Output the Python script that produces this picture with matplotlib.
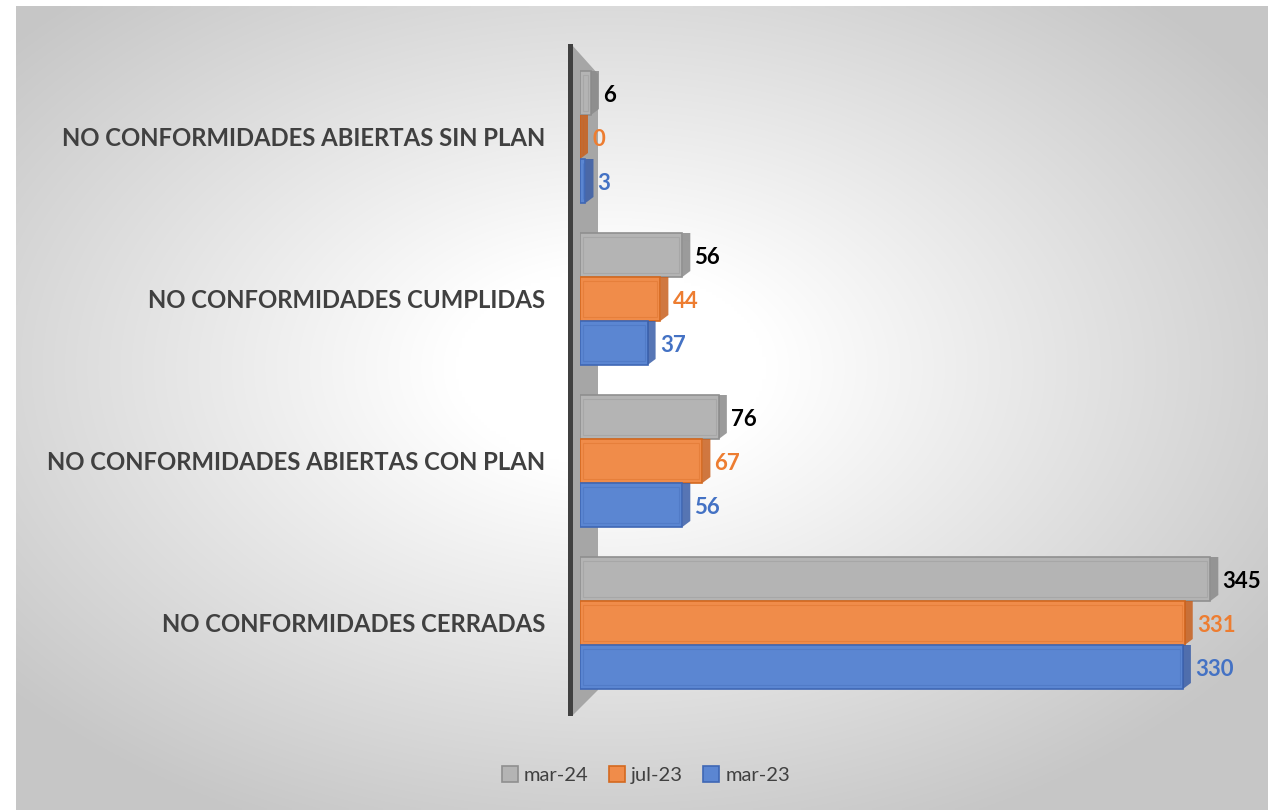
import numpy as np
import matplotlib.pyplot as plt
from matplotlib.patches import Polygon, Rectangle

# data (bottom to top)
categories = ['NO CONFORMIDADES CERRADAS', 'NO CONFORMIDADES ABIERTAS CON PLAN',
              'NO CONFORMIDADES CUMPLIDAS', 'NO CONFORMIDADES ABIERTAS SIN PLAN']
series = ['mar-24', 'jul-23', 'mar-23']
mar24 = [345, 76, 56, 6]
jul23 = [331, 67, 44, 0]
mar23 = [330, 56, 37, 3]

face_colors = ['#b4b4b4', '#f08c4a', '#5b86d2']
side_colors = ['#8a8a8a', '#c8601e', '#3a5ea8']
edge_colors = ['#8f8f8f', '#d4691f', '#3f67b5']
label_colors = ['#000000', '#ed7d31', '#4472c4']

W, H = 1279, 810
fig = plt.figure(figsize=(W / 100, H / 100), dpi=100)
plt.rcParams['font.family'] = ['Lato', 'DejaVu Sans']


def px(x, y):
    return (x / W, 1 - y / H)


# background with radial gradient
bg = fig.add_axes([16 / W, 0, (1268 - 16) / W, 1 - 6 / H], zorder=-10)
gx, gy = np.meshgrid(np.linspace(-1, 1, 400), np.linspace(-1, 1, 260))
r = np.sqrt((gx + 0.05) ** 2 + (gy + 0.1) ** 2)
shade = 1 - 0.22 * np.clip((r - 0.25) / 1.0, 0, 1)
bg.imshow(np.dstack([shade] * 3), aspect='auto', extent=[0, 1, 0, 1], interpolation='bilinear')
bg.set_axis_off()

# side wall of the 3d plot
fig.patches.append(Polygon([px(572, 45), px(598, 74), px(598, 690), px(572, 716)],
                           closed=True, transform=fig.transFigure, facecolor='#a6a6a6',
                           edgecolor='none', zorder=1))
fig.patches.append(Rectangle(px(568, 716), 5 / W, (716 - 44) / H, transform=fig.transFigure,
                             facecolor='#404040', edgecolor='none', zorder=1))

ax = fig.add_axes([580 / W, 1 - 715 / H, 680 / W, (715 - 44) / H], zorder=2)
ax.set_facecolor('none')
ppu_x = 1.827
ppu_y = 162.0
ax.set_xlim(0, 680 / ppu_x)
ax.set_ylim(-(715 - 623) / ppu_y, 3 + (137 - 44) / ppu_y)

y = np.arange(len(categories))
offsets = [44 / ppu_y, 0, -44 / ppu_y]
bar_h = 44 / ppu_y
depth = 8 / ppu_x
values = [mar24, jul23, mar23]

for i, vals in enumerate(values):
    ys = y + offsets[i]
    ax.barh(ys, vals, height=bar_h, color=face_colors[i], edgecolor=edge_colors[i],
            linewidth=1.2, zorder=3 + i, label=series[i])
    # inner bevel line
    ax.barh(ys, np.maximum(np.array(vals) - 6 / ppu_x, 0), left=3 / ppu_x,
            height=bar_h - 8 / ppu_y, color='none', edgecolor=edge_colors[i],
            linewidth=0.8, alpha=0.35, zorder=3 + i)
    for yc, v in zip(ys, vals):
        top, bot = yc + bar_h / 2, yc - bar_h / 2
        ch = 6 / ppu_y
        ax.add_patch(Polygon([(v, top), (v + depth, top), (v + depth, bot + ch), (v, bot)],
                             closed=True, facecolor=side_colors[i], edgecolor='none',
                             alpha=0.85, zorder=3 + i))
        ax.annotate(str(v), (v + depth, yc), xytext=(3, -2), textcoords='offset points',
                    ha='left', va='center', fontsize=16, fontweight='bold',
                    color=label_colors[i])

ax.set_yticks(y)
ax.set_yticklabels(categories, fontsize=17.2, fontweight='bold', color='#404040')
ax.tick_params(axis='y', length=0, pad=25)
ax.set_xticks([])
for s in ax.spines.values():
    s.set_visible(False)

handles, labels = ax.get_legend_handles_labels()
leg = fig.legend(handles[:3], labels[:3], loc='center', bbox_to_anchor=px(646, 775), ncol=3,
                 frameon=False, fontsize=14.5, handlelength=0.8, handleheight=0.8,
                 handletextpad=0.3, columnspacing=1.0, labelcolor='#404040')

fig.savefig('out.png', dpi=100)
